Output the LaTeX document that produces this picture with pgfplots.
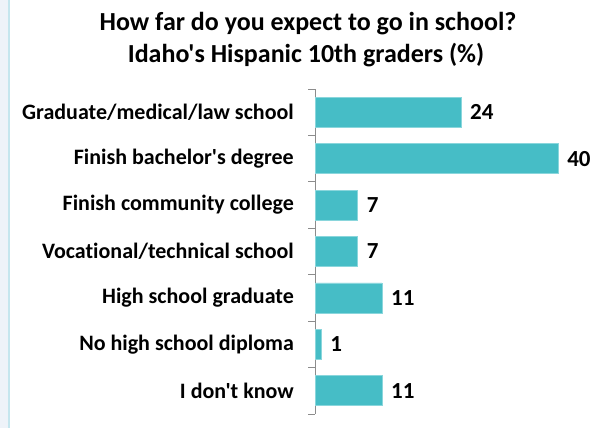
\documentclass[border=0pt]{standalone}
\usepackage{pgfplots}
\pgfplotsset{compat=1.18}
\usepackage{fontspec}
\setmainfont{Carlito}[Ligatures={TeXOff,NoCommon}]
\definecolor{barc}{HTML}{46BDC6}
\definecolor{barl}{HTML}{8AD6DC}
\definecolor{axisg}{HTML}{8C8C8C}
\definecolor{stripf}{HTML}{EEF3F9}
\definecolor{stripl}{HTML}{C5E6EE}
\begin{document}
\begin{tikzpicture}[x=1pt,y=1pt]
\path[use as bounding box] (0,0) rectangle (596,428);
\fill[stripf] (0,0) rectangle (8,428);
\fill[stripl] (8,0) rectangle (10,428);
\node[anchor=base,inner sep=0pt,font=\fontsize{26}{30}\selectfont\bfseries] at (308,397) {How far do you expect to go in school?};
\node[anchor=base,inner sep=0pt,font=\fontsize{26}{30}\selectfont\bfseries] at (306,365) {Idaho's Hispanic 10th graders (\%)};
\begin{axis}[
  at={(315pt,14pt)}, anchor=south west,
  scale only axis, width=243pt, height=325pt,
  xmin=0, xmax=40,
  ymin=-0.5, ymax=6.5,
  y dir=reverse,
  xbar, bar width=30pt,
  axis y line*=left,
  axis x line=none,
  y axis line style={axisg, line width=0.8pt},
  ytick={0,...,6},
  yticklabels={Graduate/medical/law school,Finish bachelor's degree,Finish community college,Vocational/technical school,High school graduate,No high school diploma,I don't know},
  yticklabel style={font=\fontsize{22}{26}\selectfont\bfseries, inner sep=0pt, xshift=-21pt},
  tick align=outside,
  major tick length=0pt,
  minor ytick={-0.5,0.5,...,6.5},
  minor tick length=7pt,
  minor tick style={axisg, line width=0.8pt},
  clip=false,
  nodes near coords={\pgfmathprintnumber[assume math mode=true]{\pgfplotspointmeta}},
  nodes near coords style={font=\fontsize{23}{27}\selectfont\bfseries, anchor=west, inner sep=0pt, xshift=9pt, black},
]
\addplot[fill=barc, draw=barl, line width=0.6pt] coordinates {
  (24,0) (40,1) (7,2) (7,3) (11,4) (1,5) (11,6)
};
\end{axis}
\end{tikzpicture}
\end{document}
